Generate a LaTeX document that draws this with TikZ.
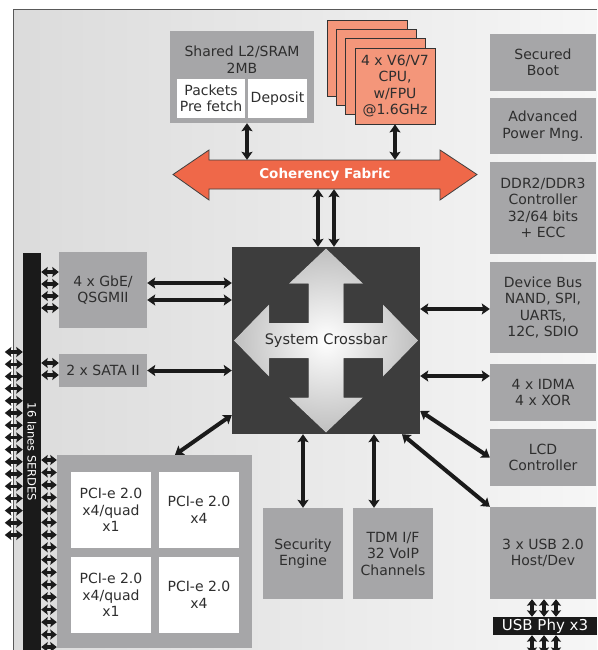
\documentclass[tikz,border=0pt]{standalone}
\usepackage{fontspec}
\setmainfont{DejaVu Sans}
\usetikzlibrary{arrows.meta,calc}
\definecolor{boxgray}{HTML}{A6A6A8}
\definecolor{txt}{HTML}{2E2E2E}
\definecolor{fabriccol}{HTML}{EF6849}
\definecolor{cpufill}{HTML}{F4967A}
\definecolor{xbarfill}{HTML}{3D3D3D}
\definecolor{arr}{HTML}{1A1A1A}
\begin{document}
\begin{tikzpicture}[x=1pt,y=-1pt,
  txtfont/.style={font=\fontsize{14}{16.5}\selectfont},
  box/.style={fill=boxgray, text=txt, align=center, inner sep=0pt, txtfont},
  wbox/.style={fill=white, text=txt, align=center, inner sep=0pt, txtfont},
  cpubox/.style={fill=cpufill, draw=black!80, line width=0.8pt, minimum width=80pt, minimum height=76pt, text=txt, align=center, inner sep=0pt, txtfont},
  link/.style={draw=arr, line width=4pt, {Stealth[length=8pt,width=11pt,inset=1.5pt]}-{Stealth[length=8pt,width=11pt,inset=1.5pt]}},
  pin/.style={draw=arr, line width=3.4pt, {Stealth[length=6.5pt,width=10pt,inset=1pt]}-{Stealth[length=6.5pt,width=10pt,inset=1pt]}}
]
\useasboundingbox (0,0) rectangle (597,650);
% background frame
\fill[left color=gray!28, right color=gray!7] (13,10) rectangle (597,650);
\draw[black!65, line width=1pt] (13,650) -- (13,10) -- (597,10);

% right column
\node[box, minimum width=106pt, minimum height=57pt] (secboot) at (543,62.5) {Secured\\Boot};
\node[box, minimum width=106pt, minimum height=56pt] (power) at (543,126) {Advanced\\Power Mng.};
\node[box, minimum width=106pt, minimum height=92pt] (ddr) at (543,208) {DDR2/DDR3\\Controller\\32/64 bits\\+ ECC};
\node[box, minimum width=106pt, minimum height=91pt] (devbus) at (543,307.5) {Device Bus\\NAND, SPI,\\UARTs,\\12C, SDIO};
\node[box, minimum width=106pt, minimum height=57pt] (idma) at (543,392.5) {4 x IDMA\\4 x XOR};
\node[box, minimum width=106pt, minimum height=57pt] (lcd) at (543,457.5) {LCD\\Controller};
\node[box, minimum width=106pt, minimum height=92pt] (usb) at (543,553) {3 x USB 2.0\\Host/Dev};
\node[fill=arr, text=white, minimum width=104pt, minimum height=18pt, inner sep=0pt, font=\fontsize{15}{16}\selectfont] (phy) at (545,626) {USB Phy x3};

% L2
\node[box, minimum width=144pt, minimum height=92pt] (l2) at (242,77) {};
\node[text=txt, align=center, inner sep=0pt, txtfont] (l2label) at (242,59.5) {Shared L2/SRAM\\2MB};
\node[wbox, minimum width=68pt, minimum height=39pt] (packets) at (211,98.5) {Packets\\Pre fetch};
\node[wbox, minimum width=59pt, minimum height=39pt] (deposit) at (277.5,98.5) {Deposit};

% CPU stack
\node[cpubox] (cpud) at (367.4,58.4) {};
\node[cpubox] (cpuc) at (376.6,67.6) {};
\node[cpubox] (cpub) at (385.8,76.8) {};
\node[cpubox] (cpu) at (395,86) {4 x V6/V7\\CPU,\\w/FPU\\@1.6GHz};

% coherency fabric
\draw[fill=fabriccol, draw=black!75, line width=0.8pt] (173,174.5) -- (209,150) -- (209,160) -- (440,160) -- (440,150) -- (477,174.5) -- (440,200) -- (440,189) -- (209,189) -- (209,200) -- cycle;
\node[inner sep=0pt, minimum width=231pt, minimum height=29pt] (fabric) at (324.5,174.5) {};
\node[text=white, inner sep=0pt, font=\bfseries\fontsize{13.5}{16}\selectfont] (fabriclabel) at (325,175) {Coherency Fabric};

% crossbar
\node[fill=xbarfill, minimum width=188pt, minimum height=187pt, inner sep=0pt] (xbar) at (326,340.5) {};
\begin{scope}[shift={(326,340.5)}]
\fill[shading=radial, inner color=white, outer color=gray!50]
  (0,-92) -- (37,-57) -- (17.5,-57) -- (17.5,-17.5) -- (57,-17.5) -- (57,-36) -- (92,0) -- (57,36) -- (57,17.5) -- (17.5,17.5) -- (17.5,57) -- (37,57) -- (0,92) -- (-37,57) -- (-17.5,57) -- (-17.5,17.5) -- (-57,17.5) -- (-57,36) -- (-92,0) -- (-57,-36) -- (-57,-17.5) -- (-17.5,-17.5) -- (-17.5,-57) -- (-37,-57) -- cycle;
\end{scope}
\node[text=txt, inner sep=0pt, font=\fontsize{14.5}{16}\selectfont] (xbarlabel) at (326,340) {System Crossbar};

% left side
\node[box, minimum width=88pt, minimum height=76pt] (gbe) at (103,290) {4 x GbE/\\QSGMII};
\node[box, minimum width=88pt, minimum height=33pt] (sata) at (103,370.5) {2 x SATA II};
\node[box, minimum width=195pt, minimum height=193pt] (pci) at (154.5,551.5) {};
\node[wbox, minimum width=80pt, minimum height=76pt] (pci1) at (111,510) {PCI-e 2.0\\x4/quad\\x1};
\node[wbox, minimum width=80pt, minimum height=76pt] (pci2) at (199,510) {PCI-e 2.0\\x4};
\node[wbox, minimum width=80pt, minimum height=76pt] (pci3) at (111,595) {PCI-e 2.0\\x4/quad\\x1};
\node[wbox, minimum width=80pt, minimum height=76pt] (pci4) at (199,595) {PCI-e 2.0\\x4};

% security / TDM
\node[box, minimum width=80pt, minimum height=91pt] (sec) at (303,553.5) {Security\\Engine};
\node[box, minimum width=80pt, minimum height=91pt] (tdm) at (393,553.5) {TDM I/F\\32 VoIP\\Channels};

% SERDES
\node[fill=arr, minimum width=18pt, minimum height=397pt, inner sep=0pt] (serdes) at (32,451.5) {};
\node[rotate=-90, text=white, inner sep=0pt, font=\fontsize{11.5}{13}\selectfont] (serdeslabel) at (32,452) {16 lanes SERDES};

% SERDES pins
\foreach \i [evaluate=\i as \yy using 352+12.2*\i] in {0,...,15}
  \draw[pin] (serdes.west |- 0,\yy) -- ++(-18,0);
\foreach \i [evaluate=\i as \yy using 272+12*\i] in {0,...,3}
  \draw[pin] (serdes.east |- 0,\yy) -- (gbe.west |- 0,\yy);
\foreach \yy in {363,375}
  \draw[pin] (serdes.east |- 0,\yy) -- (sata.west |- 0,\yy);
\foreach \i [evaluate=\i as \yy using 460+12.47*\i] in {0,...,15}
  \draw[pin] (serdes.east |- 0,\yy) -- (pci.west |- 0,\yy);

% USB phy pins
\foreach \xx in {532,544,556} {
  \draw[pin] (usb.south -| \xx,0) -- (phy.north -| \xx,0);
  \draw[pin] (phy.south -| \xx,0) -- (\xx,654);
}

% links
\draw[link] ([xshift=5pt]l2.south) -- ([xshift=5pt]l2.south |- fabric.north);
\draw[link] (cpu.south) -- (cpu.south |- fabric.north);
\draw[link] ([xshift=-8pt]xbar.north) -- ([xshift=-8pt]xbar.north |- fabric.south);
\draw[link] ([xshift=8pt]xbar.north) -- ([xshift=8pt]xbar.north |- fabric.south);
\draw[link] (gbe.east |- 0,283) -- (xbar.west |- 0,283);
\draw[link] (gbe.east |- 0,300) -- (xbar.west |- 0,300);
\draw[link] (sata.east) -- (sata.east -| xbar.west);
\draw[link] (xbar.east |- 0,309) -- (devbus.west |- 0,309);
\draw[link] (xbar.east |- 0,376) -- (idma.west |- 0,376);
\draw[link] (xbar.east |- 0,411) -- (lcd.west);
\draw[link] (xbar.south -| 402,0) -- (usb.north west);
\draw[link] (xbar.west |- 0,415) -- (pci.north -| 175,0);
\draw[link] (xbar.south -| sec.north) -- (sec.north);
\draw[link] (xbar.south -| 374,0) -- (tdm.north -| 374,0);
\end{tikzpicture}
\end{document}
